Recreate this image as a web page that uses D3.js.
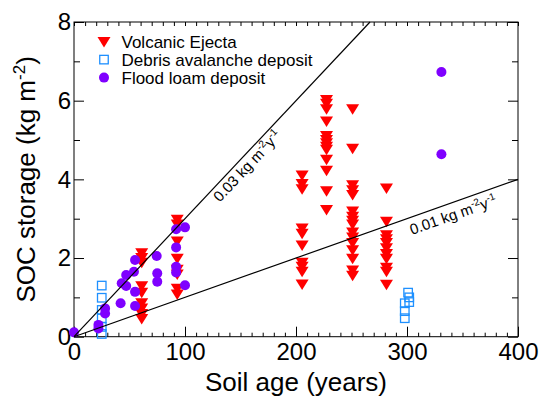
<!DOCTYPE html>
<html>
<head>
<meta charset="utf-8">
<script src="https://cdn.jsdelivr.net/npm/d3@7"></script>
<style>
  body { margin: 0; background: #fff; }
  svg { display: block; font-family: Arial, "Liberation Sans", sans-serif; }
</style>
</head>
<body>
<div id="chart"></div>
<script>
// soil age (years) and SOC storage (kg m-2)
const volcanicAges = [61, 93, 205.5, 227.5, 251, 281.5];
const volcanicSOC = [
  [2.12, 2.0, 1.88, 1.28, 1.12, 0.85, 0.72, 0.58, 0.45],
  [2.97, 2.85, 2.42, 1.98, 1.7, 1.58, 1.22, 1.07],
  [4.1, 3.88, 3.75, 2.75, 2.62, 2.32, 1.88, 1.78, 1.65, 1.33],
  [6.02, 5.92, 5.78, 5.47, 5.1, 5.0, 4.92, 4.83, 4.75, 4.5, 4.22, 3.7, 3.22],
  [5.78, 4.78, 3.85, 3.72, 3.6, 3.18, 3.05, 2.95, 2.85, 2.65, 2.52, 2.38, 2.2, 1.98, 1.68, 1.55],
  [3.77, 2.92, 2.58, 2.48, 2.38, 2.25, 2.1, 1.98, 1.75, 1.65, 1.32]
];
const debrisAges = [25, 25, 25, 25, 25, 25, 301, 302, 302, 298, 298, 298];
const debrisSOC = [1.3, 0.99, 0.68, 0.47, 0.25, 0.07, 1.12, 1.0, 0.88, 0.85, 0.65, 0.47];
const floodAges = [0, 22, 22, 28, 28, 42, 43, 47, 47, 54, 55, 55, 55, 74.5, 75, 75, 92, 100, 92, 92, 92, 100, 331, 331];
const floodSOC = [0.11, 0.3, 0.21, 0.72, 0.59, 0.85, 1.36, 1.57, 1.29, 1.65, 1.95, 1.14, 0.78, 2.05, 1.61, 1.4, 2.73, 2.78, 2.27, 1.78, 1.63, 1.31, 6.73, 4.64];
const rates = [0.03, 0.01];           // kg m-2 y-1 reference lines
const rateLabelAt = [150, 338];       // soil age where each line label sits
const xTicks = [0, 100, 200, 300, 400];
const yTicks = [0, 2, 4, 6, 8];
const legendNames = ["Volcanic Ejecta", "Debris avalanche deposit", "Flood loam deposit"];

var margin = { top: 22, right: 22, bottom: 61.3, left: 74 },
  width = 540 - margin.left - margin.right,
  height = 398 - margin.top - margin.bottom;

var red = "#ff0000", blue = "#1e90ff", purple = "#7f00ff";

var x = d3.scaleLinear().domain([0, 400]).range([0, width]);
var y = d3.scaleLinear().domain([0, 8]).range([height, 0]);

var svg = d3.select("#chart").append("svg")
  .attr("width", 540).attr("height", 398)
  .append("g")
  .attr("transform", "translate(" + margin.left + "," + margin.top + ")");

// frame
svg.append("rect").attr("width", width).attr("height", height)
  .attr("fill", "none").attr("stroke", "#000").attr("stroke-width", 1);

var xMinor = d3.range(0, 401, 10).filter(d => d % 100 !== 0);
var yMinor = [1, 3, 5, 7];

function styleAxis(g, size) {
  g.select(".domain").remove();
  g.selectAll("line").attr("stroke", "#000");
  g.selectAll("text").attr("font-size", size).attr("fill", "#000")
    .attr("font-family", "Arial, 'Liberation Sans', sans-serif");
}

// bottom axis with labels
svg.append("g").attr("transform", "translate(0," + height + ")")
  .call(d3.axisBottom(x).tickValues(xTicks).tickSize(-10).tickPadding(6))
  .call(g => styleAxis(g, 24));
svg.append("g").attr("transform", "translate(0," + height + ")")
  .call(d3.axisBottom(x).tickValues(xMinor).tickSize(-4).tickFormat(""))
  .call(g => styleAxis(g, 0));
// top ticks
svg.append("g")
  .call(d3.axisTop(x).tickValues(xTicks.concat(xMinor)).tickSize(-4).tickFormat(""))
  .call(g => styleAxis(g, 0));

// left axis with labels
svg.append("g")
  .call(d3.axisLeft(y).tickValues(yTicks).tickSize(-10).tickPadding(3))
  .call(g => styleAxis(g, 24));
svg.append("g")
  .call(d3.axisLeft(y).tickValues(yMinor).tickSize(-6).tickFormat(""))
  .call(g => styleAxis(g, 0));
// right ticks
svg.append("g").attr("transform", "translate(" + width + ",0)")
  .call(d3.axisRight(y).tickValues(yTicks).tickSize(-10).tickFormat(""))
  .call(g => styleAxis(g, 0));
svg.append("g").attr("transform", "translate(" + width + ",0)")
  .call(d3.axisRight(y).tickValues(yMinor).tickSize(-6).tickFormat(""))
  .call(g => styleAxis(g, 0));

// points
var volcanic = [];
volcanicAges.forEach(function (a, i) {
  volcanicSOC[i].forEach(function (v) { volcanic.push({ x: a, y: v }); });
});
var debris = debrisAges.map((a, i) => ({ x: a, y: debrisSOC[i] }));
var flood = floodAges.map((a, i) => ({ x: a, y: floodSOC[i] }));

var triPath = "M-6.5,-5L6.5,-5L0,5.5Z";

svg.selectAll(".tri").data(volcanic).enter().append("path")
  .attr("class", "tri")
  .attr("d", triPath)
  .attr("transform", d => "translate(" + x(d.x) + "," + y(d.y) + ")")
  .attr("fill", red);

svg.selectAll(".sq").data(debris).enter().append("rect")
  .attr("class", "sq")
  .attr("x", d => x(d.x) - 4.25).attr("y", d => y(d.y) - 4.25)
  .attr("width", 8.5).attr("height", 8.5)
  .attr("fill", "none").attr("stroke", blue).attr("stroke-width", 1.3);

svg.selectAll(".dot").data(flood).enter().append("circle")
  .attr("class", "dot")
  .attr("cx", d => x(d.x)).attr("cy", d => y(d.y))
  .attr("r", 5).attr("fill", purple);

// rate lines
rates.forEach(function (r, i) {
  var xEnd = Math.min(400, 8 / r);
  svg.append("line")
    .attr("x1", x(0)).attr("y1", y(0))
    .attr("x2", x(xEnd)).attr("y2", y(r * xEnd))
    .attr("stroke", "#000").attr("stroke-width", 1.2);

  var lx = x(rateLabelAt[i]), ly = y(r * rateLabelAt[i]);
  var ang = Math.atan2(y(r * 100) - y(0), x(100) - x(0)) * 180 / Math.PI;
  var t = svg.append("text")
    .attr("transform", "translate(" + lx + "," + ly + ") rotate(" + ang + ")")
    .attr("text-anchor", "middle")
    .attr("dy", i === 0 ? 14.5 : 17)
    .attr("font-size", 15).attr("fill", "#000");
  t.append("tspan").text(r.toFixed(2) + " kg m");
  t.append("tspan").attr("dy", -6).attr("font-size", 10).text("-2");
  t.append("tspan").attr("dy", 6).text("y");
  t.append("tspan").attr("dy", -6).attr("font-size", 10).text("-1");
});

// legend
var legend = svg.append("g").attr("transform", "translate(30,20)");
var legendY = [0, 17.6, 35.6];
legend.append("path").attr("d", triPath)
  .attr("transform", "translate(0," + legendY[0] + ")").attr("fill", red);
legend.append("rect").attr("x", -4.25).attr("y", legendY[1] - 4.25)
  .attr("width", 8.5).attr("height", 8.5)
  .attr("fill", "none").attr("stroke", blue).attr("stroke-width", 1.3);
legend.append("circle").attr("cy", legendY[2]).attr("r", 5).attr("fill", purple);
legend.selectAll("text").data(legendNames).enter().append("text")
  .attr("x", 17.5).attr("y", (d, i) => legendY[i])
  .attr("dy", "0.36em").attr("font-size", 17).attr("fill", "#000")
  .text(d => d);

// axis titles
svg.append("text")
  .attr("x", width / 2).attr("y", height + 54.5)
  .attr("text-anchor", "middle").attr("font-size", 26).attr("fill", "#000")
  .text("Soil age (years)");

var yt = svg.append("text")
  .attr("transform", "translate(" + (35 - margin.left) + "," + height / 2 + ") rotate(-90)")
  .attr("text-anchor", "middle").attr("font-size", 26).attr("fill", "#000");
yt.append("tspan").text("SOC storage (kg m");
yt.append("tspan").attr("dy", -10).attr("font-size", 17).text("-2");
yt.append("tspan").attr("dy", 10).text(")");
</script>
</body>
</html>
